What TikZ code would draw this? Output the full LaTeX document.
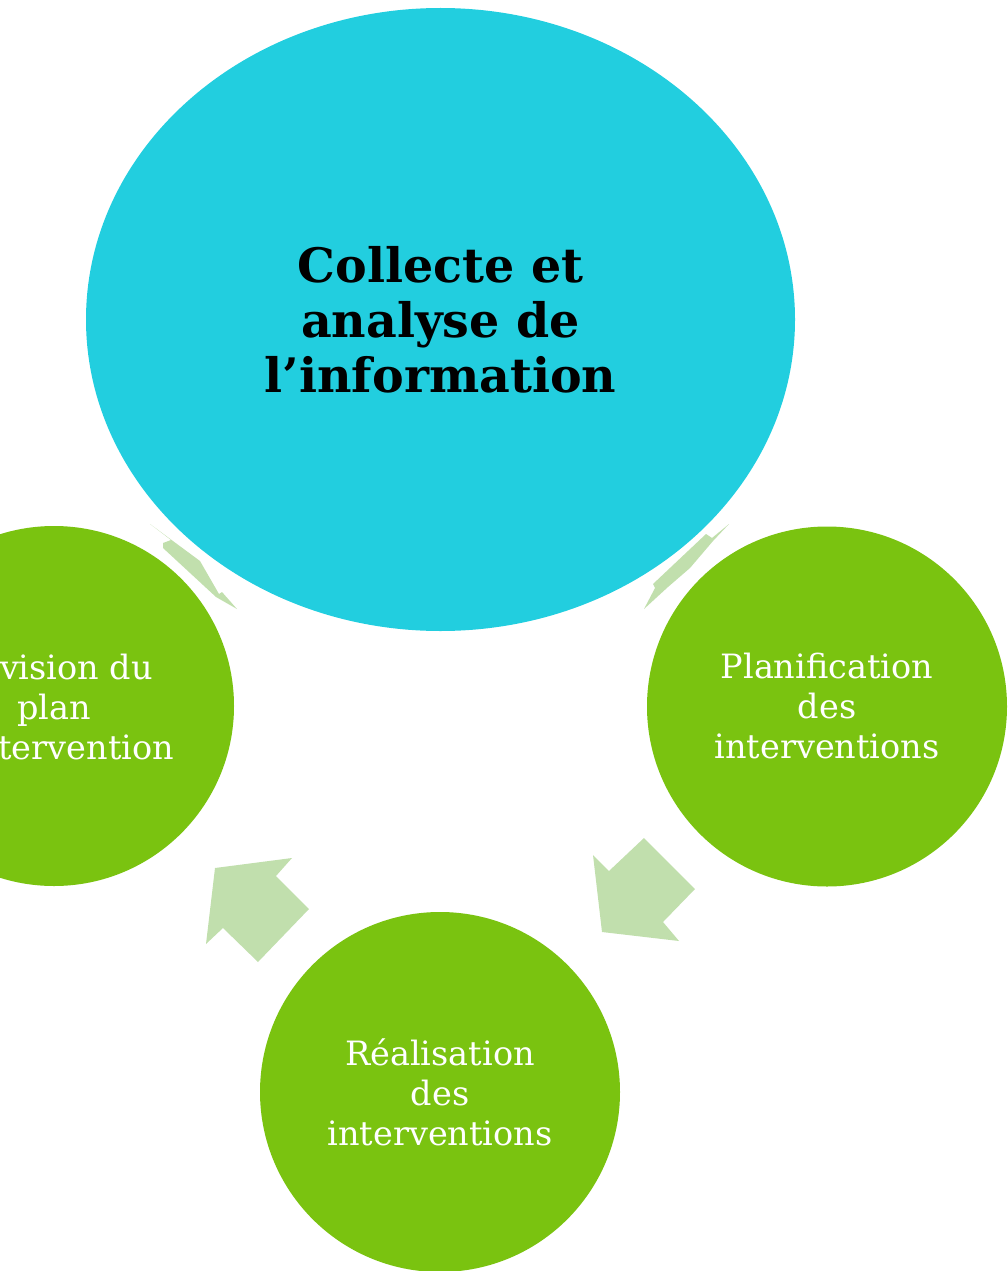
\documentclass[tikz,border=0pt]{standalone}
\usepackage{fontspec}
\setmainfont{DejaVu Serif}
\usetikzlibrary{shapes.geometric}
\definecolor{collectcyan}{HTML}{22CEDF}
\definecolor{phasegreen}{HTML}{7AC310}
\definecolor{arrowgreen}{HTML}{C1DFAD}
\tikzset{
  phase/.style={circle, fill=phasegreen, minimum size=360pt, inner sep=0pt,
    text=white, align=center, font=\fontsize{33.5}{40}\selectfont},
  cyclearrow/.style={fill=arrowgreen}
}

\begin{document}
\begin{tikzpicture}[x=1pt,y=-1pt]
\useasboundingbox (0,0) rectangle (1008,1271);
% phases of the cycle
\node (collect) at (440.5,319.5) [ellipse, fill=collectcyan, minimum width=709pt, minimum height=623pt, inner sep=0pt, align=center, font=\fontsize{47.5}{55}\selectfont\bfseries] {Collecte et\\analyse de\\l’information};
\node (plan) at (827,706.5) [phase] {Planification\\des\\interventions};
\node (real) at (440,1092) [phase] {Réalisation\\des\\interventions};
\node (revis) at (54,706) [phase] {Révision du\\plan\\d’intervention};
% arrows between the phases
\fill[cyclearrow] (729,524) -- (713,541) -- (690,568) -- (668,587) -- (644,609)
  -- (655,588) -- (653,584) -- (706,534) -- (712,538) -- cycle;
\fill[cyclearrow] (593,855) -- (609,871) -- (644,838) -- (695,889) -- (663,922)
  -- (679,941) -- (602,932) -- cycle;
\fill[cyclearrow] (215,868) -- (292,858) -- (276,876) -- (309,909) -- (258,962)
  -- (223,928) -- (206,944) -- cycle;
\fill[cyclearrow] (150,524) -- (200,561) -- (219,594) -- (222,592) -- (237,609)
  -- (216,597) -- (163,548) -- (163,543) -- (171,540) -- cycle;
\end{tikzpicture}
\end{document}
